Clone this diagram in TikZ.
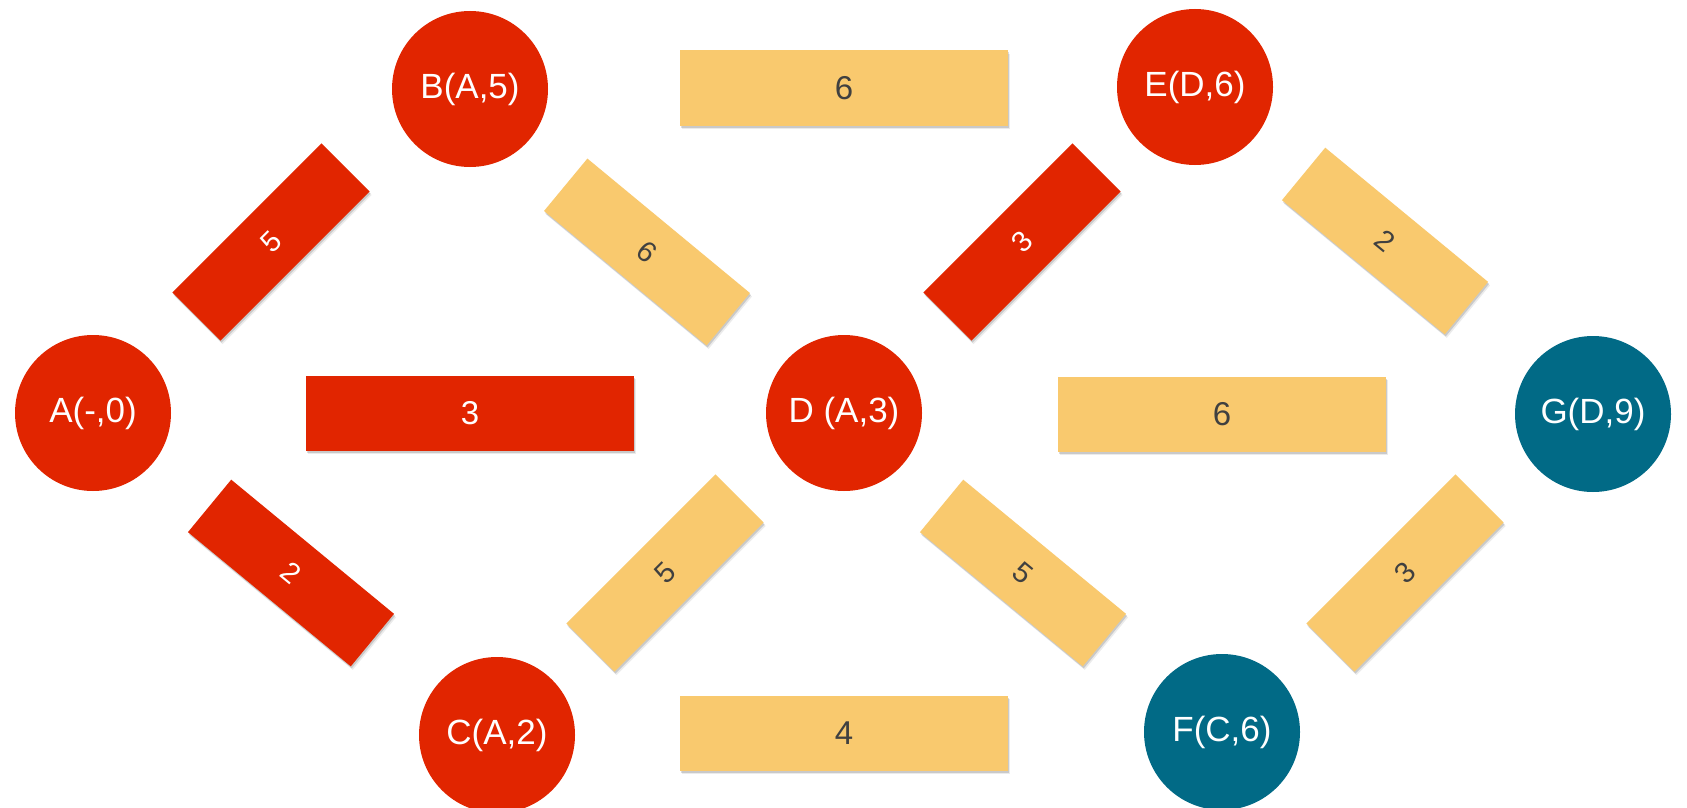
\documentclass[tikz,border=0pt]{standalone}
\usepackage{fontspec}
\setmainfont{Liberation Sans}
\usetikzlibrary{shadows}
\definecolor{cred}{HTML}{E12500}
\definecolor{cyel}{HTML}{F9C96E}
\definecolor{cteal}{HTML}{016A86}
\definecolor{ctext}{HTML}{404040}
\begin{document}
\begin{tikzpicture}[x=1pt,y=-1pt,
  vert/.style={circle, minimum size=156pt, inner sep=0pt, text=white, font=\fontsize{35}{40}\selectfont},
  redv/.style={vert, fill=cred},
  tealv/.style={vert, fill=cteal},
  wbox/.style={rectangle, inner sep=0pt,
    drop shadow={shadow xshift=2pt, shadow yshift=-3.5pt, opacity=0.08, fill=black},
    drop shadow={shadow xshift=1pt, shadow yshift=-2pt, opacity=0.14, fill=black}},
  hbox/.style={wbox, minimum width=328pt, minimum height=75pt, font=\fontsize{33}{38}\selectfont},
  dbox/.style={wbox, minimum width=211pt, minimum height=68pt, font=\fontsize{29}{34}\selectfont},
  redb/.style={fill=cred, text=white},
  yelb/.style={fill=cyel, text=ctext},
]
\fill[white] (0,0) rectangle (1687,808);
\useasboundingbox (0,0) rectangle (1687,808);

% vertices
\node[redv]  (A) at (93,413)   {A(-,0)};
\node[redv]  (B) at (470,89)   {B(A,5)};
\node[redv]  (C) at (497,735)  {C(A,2)};
\node[redv]  (D) at (844,413)  {D (A,3)};
\node[redv]  (E) at (1195,87)  {E(D,6)};
\node[tealv] (F) at (1222,732) {F(C,6)};
\node[tealv] (G) at (1593,414) {G(D,9)};

% edge weights (horizontal)
\node[hbox, yelb] (BE) at (844,88)   {6};
\node[hbox, redb] (AD) at (470,413)  {3};
\node[hbox, yelb] (DG) at (1222,414) {6};
\node[hbox, yelb] (CF) at (844,733)  {4};

% edge weights (diagonal)
\node[dbox, redb, rotate=45]    (AB) at (271,242)  {5};
\node[dbox, yelb, rotate=-39.6] (BD) at (647,252)  {6};
\node[dbox, redb, rotate=-39.5] (AC) at (291,573)  {2};
\node[dbox, yelb, rotate=45]    (CD) at (665,573)  {5};
\node[dbox, redb, rotate=45]    (DE) at (1022,242) {3};
\node[dbox, yelb, rotate=-39.5] (EG) at (1385,241) {2};
\node[dbox, yelb, rotate=-39.5] (DF) at (1023,573) {5};
\node[dbox, yelb, rotate=45]    (FG) at (1405,573) {3};
\end{tikzpicture}
\end{document}
